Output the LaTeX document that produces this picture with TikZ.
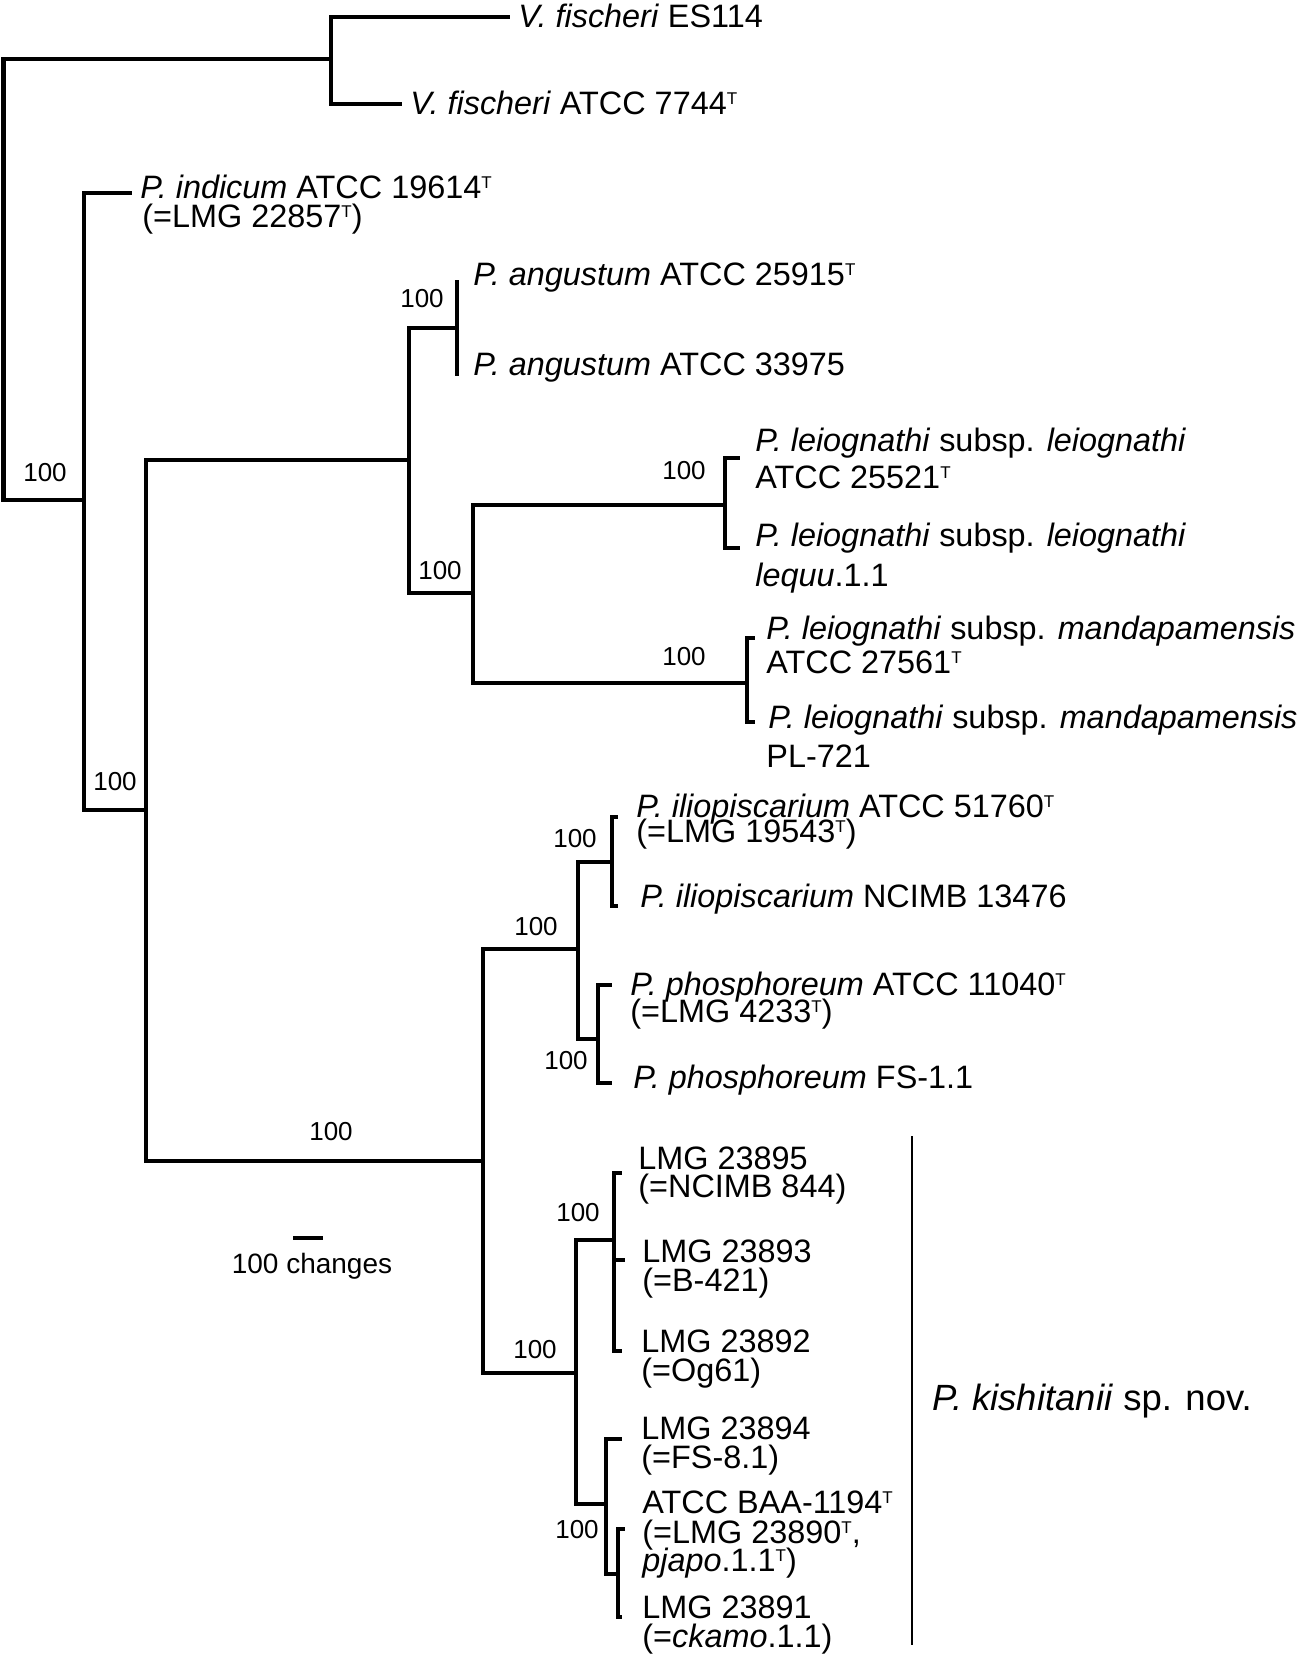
\documentclass[tikz,border=0pt]{standalone}
\usepackage{fontspec}
\setmainfont{Liberation Sans}
\newcommand\supT{\raisebox{0.3em}{\fontsize{8.5}{8.5}\selectfont T}}
\begin{document}
\begin{tikzpicture}[x=0.5pt,y=-0.5pt,
  tree/.style={line width=2.2pt, line cap=rect, line join=miter},
  lab/.style={anchor=base west, inner sep=0pt, font=\fontsize{16.2}{19}\selectfont},
  bs/.style={anchor=center, inner sep=0pt, font=\fontsize{13}{15}\selectfont}]
\useasboundingbox (0,0) rectangle (1302,1654);
% internal nodes
\coordinate (R) at (3.5,280);
\coordinate (Vf) at (331,59);
\coordinate (A) at (84,500);
\coordinate (B) at (146,810);
\coordinate (C) at (409,460);
\coordinate (ang) at (457,328);
\coordinate (D) at (473,593);
\coordinate (lei) at (725,505);
\coordinate (man) at (747,683);
\coordinate (E) at (483,1161);
\coordinate (F) at (578,949);
\coordinate (G) at (612,862);
\coordinate (H) at (598,1039);
\coordinate (I) at (576,1373);
\coordinate (J) at (614,1240);
\coordinate (K) at (606,1504);
\coordinate (L) at (618,1574);
% tips
\coordinate (t1) at (508,17);
\coordinate (t2) at (400,104);
\coordinate (t3) at (130,193);
\coordinate (t4) at (457,282);
\coordinate (t5) at (457,374);
\coordinate (t6) at (738,458);
\coordinate (t7) at (738,548);
\coordinate (t8) at (753,638);
\coordinate (t9) at (753,722);
\coordinate (t10) at (616,817);
\coordinate (t11) at (616,906);
\coordinate (t12) at (610,985);
\coordinate (t13) at (610,1083);
\coordinate (t14) at (620,1173);
\coordinate (t15) at (623,1260);
\coordinate (t16) at (620,1351);
\coordinate (t17) at (620,1439);
\coordinate (t18) at (623,1529);
\coordinate (t19) at (620,1617);
% branches
\draw[tree] (R) |- (Vf) (R) |- (A);
\draw[tree] (Vf) |- (t1) (Vf) |- (t2);
\draw[tree] (A) |- (t3) (A) |- (B);
\draw[tree] (B) |- (C) (B) |- (E);
\draw[tree] (C) |- (ang) (C) |- (D);
\draw[tree] (ang) -- (t4) (ang) -- (t5);
\draw[tree] (D) |- (lei) (D) |- (man);
\draw[tree] (lei) |- (t6) (lei) |- (t7);
\draw[tree] (man) |- (t8) (man) |- (t9);
\draw[tree] (E) |- (F) (E) |- (I);
\draw[tree] (F) |- (G) (F) |- (H);
\draw[tree] (G) |- (t10) (G) |- (t11);
\draw[tree] (H) |- (t12) (H) |- (t13);
\draw[tree] (I) |- (J) (I) |- (K);
\draw[tree] (J) |- (t14) (J) |- (t15) (J) |- (t16);
\draw[tree] (K) |- (t17) (K) |- (L);
\draw[tree] (L) |- (t18) (L) |- (t19);
% bootstrap values
\node[bs] (b1) at (45,473) {100};
\node[bs] (b2) at (115,782) {100};
\node[bs] (b3) at (422,299) {100};
\node[bs] (b4) at (440,571) {100};
\node[bs] (b5) at (684,471) {100};
\node[bs] (b6) at (684,657) {100};
\node[bs] (b7) at (331,1132) {100};
\node[bs] (b8) at (536,927) {100};
\node[bs] (b9) at (575,839) {100};
\node[bs] (b10) at (566,1061) {100};
\node[bs] (b11) at (578,1213) {100};
\node[bs] (b12) at (535,1350) {100};
\node[bs] (b13) at (577,1530) {100};
% taxon labels
\node[lab] (l1) at (518,27) {\textit{V. fischeri} ES114};
\node[lab] (l2) at (410,114) {\textit{V. fischeri} ATCC 7744\supT};
\node[lab] (l3a) at (140,198) {\textit{P. indicum} ATCC 19614\supT};
\node[lab] (l3b) at (142,227) {(=LMG 22857\supT)};
\node[lab] (l4) at (473,285) {\textit{P. angustum} ATCC 25915\supT};
\node[lab] (l5) at (473,375) {\textit{P. angustum} ATCC 33975};
\node[lab] (l6a) at (755,451) {\textit{P. leiognathi} subsp. \textit{leiognathi}};
\node[lab] (l6b) at (755,488) {ATCC 25521\supT};
\node[lab] (l7a) at (755,546) {\textit{P. leiognathi} subsp. \textit{leiognathi}};
\node[lab] (l7b) at (755,586) {\textit{lequu}.1.1};
\node[lab] (l8a) at (766,639) {\textit{P. leiognathi} subsp. \textit{mandapamensis}};
\node[lab] (l8b) at (766,673) {ATCC 27561\supT};
\node[lab] (l9a) at (768,728) {\textit{P. leiognathi} subsp. \textit{mandapamensis}};
\node[lab] (l9b) at (766,767) {PL-721};
\node[lab] (l10a) at (636,817) {\textit{P. iliopiscarium} ATCC 51760\supT};
\node[lab] (l10b) at (636,842) {(=LMG 19543\supT)};
\node[lab] (l11) at (640,907) {\textit{P. iliopiscarium} NCIMB 13476};
\node[lab] (l12a) at (630,995) {\textit{P. phosphoreum} ATCC 11040\supT};
\node[lab] (l12b) at (630,1022) {(=LMG 4233\supT)};
\node[lab] (l13) at (633,1088) {\textit{P. phosphoreum} FS-1.1};
\node[lab] (l14a) at (638,1169) {LMG 23895};
\node[lab] (l14b) at (638,1197) {(=NCIMB 844)};
\node[lab] (l15a) at (642,1262) {LMG 23893};
\node[lab] (l15b) at (642,1291) {(=B-421)};
\node[lab] (l16a) at (641,1352) {LMG 23892};
\node[lab] (l16b) at (641,1381) {(=Og61)};
\node[lab] (l17a) at (641,1439) {LMG 23894};
\node[lab] (l17b) at (641,1468) {(=FS-8.1)};
\node[lab] (l18a) at (642,1513) {ATCC BAA-1194\supT};
\node[lab] (l18b) at (642,1543) {(=LMG 23890\supT,};
\node[lab] (l18c) at (642,1571) {\textit{pjapo}.1.1\supT)};
\node[lab] (l19a) at (642,1618) {LMG 23891};
\node[lab] (l19b) at (642,1647) {(=\textit{ckamo}.1.1)};
% species bracket
\coordinate (kt) at (912,1136);
\coordinate (kb) at (912,1645);
\draw[line width=1.35pt] (kt) -- (kb);
\node[anchor=base west, inner sep=0pt, font=\fontsize{18.25}{22}\selectfont] (kish) at (932,1410) {\textit{P. kishitanii} sp. nov.};
% scale bar
\coordinate (s1) at (293,1238);
\coordinate (s2) at (323,1238);
\draw[line width=2.2pt] (s1) -- (s2);
\node[anchor=center, inner sep=0pt, font=\fontsize{14}{16}\selectfont] (scl) at (312,1266) {100 changes};
\end{tikzpicture}
\end{document}
